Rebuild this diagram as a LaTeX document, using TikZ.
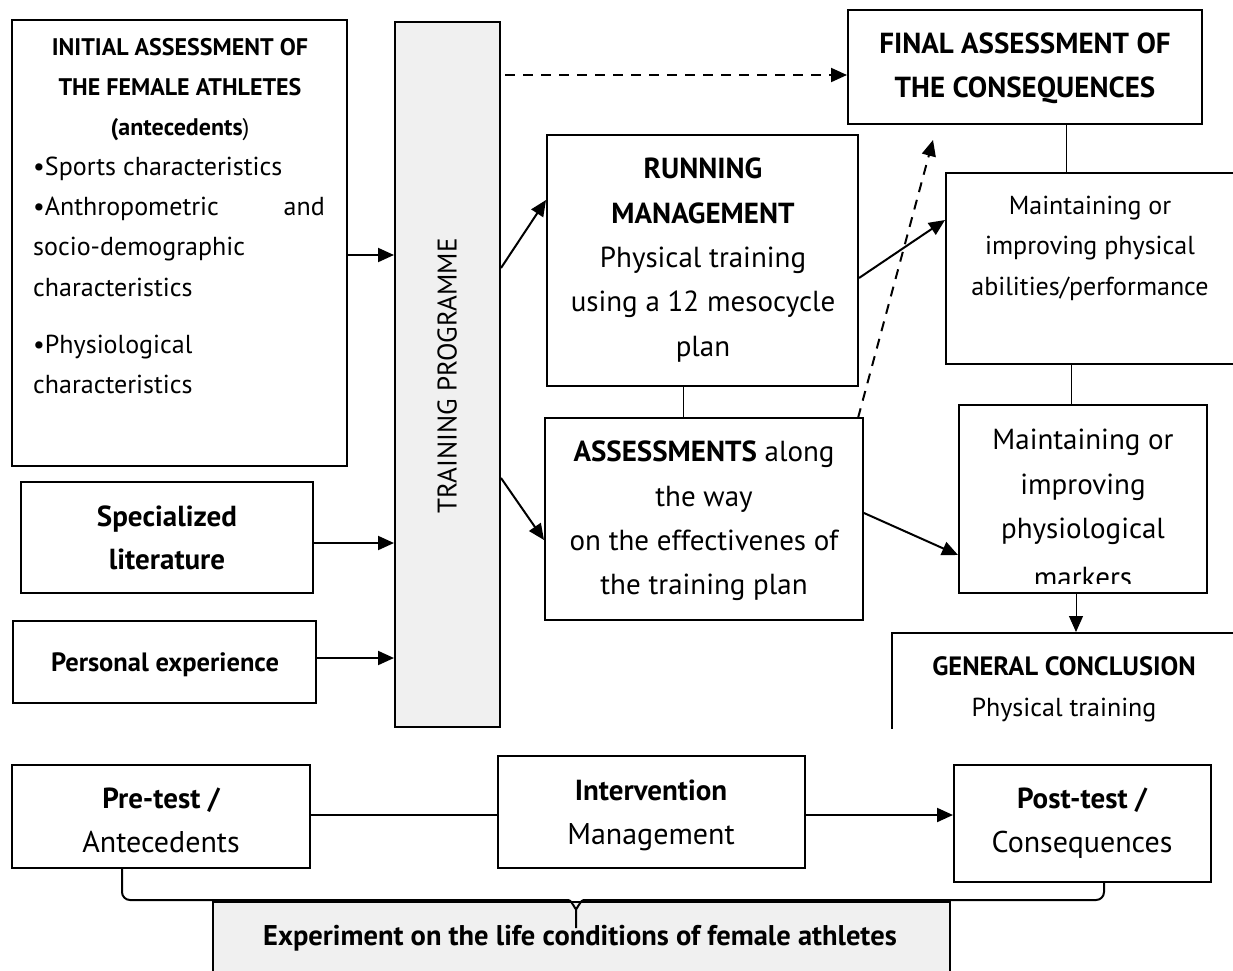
\documentclass[tikz,border=0pt]{standalone}
\usepackage{fontspec}
\setmainfont{PT Sans}
\usetikzlibrary{arrows.meta}
\tikzset{
  box/.style={draw, line width=2pt, inner sep=0pt},
  gbox/.style={box, fill=black!6},
  tl/.style={anchor=mid, inner sep=0pt, yshift=-6pt},
  fa/.style={font=\fontsize{26}{26}\selectfont},
  fb/.style={font=\fontsize{29}{29}\selectfont},
  fc/.style={font=\fontsize{30}{30}\selectfont},
  fab/.style={font=\fontsize{24}{24}\selectfont\bfseries},
  fgb/.style={font=\fontsize{26.5}{26.5}\selectfont\bfseries},
  fbb/.style={font=\fontsize{29}{29}\selectfont\bfseries},
  arr/.style={line width=2pt, -{Triangle[length=16pt,width=14pt]}},
  darr/.style={arr, dash pattern=on 10pt off 8pt},
  thin/.style={line width=1pt},
}
\begin{document}
\begin{tikzpicture}[x=1pt,y=-1pt]
\useasboundingbox (0,0) rectangle (1233,970);
% boxes
\node[box, minimum width=335pt, minimum height=446pt] (init) at (179.5,243) {};
\node[gbox, minimum width=105pt, minimum height=705pt] (tp) at (447.5,374.5) {};
\node[box, minimum width=354pt, minimum height=114pt] (final) at (1025,67) {};
\node[box, minimum width=311pt, minimum height=251pt] (run) at (702.5,260.5) {};
\node[box, minimum width=318pt, minimum height=202pt] (assess) at (704,519) {};
\node[box, minimum width=299pt, minimum height=191pt] (phys) at (1095.5,268.5) {};
\node[box, minimum width=248pt, minimum height=188pt] (physio) at (1083,499) {};
\begin{scope}
\clip (0,0) rectangle (1240,728);
\node[box, minimum width=353pt, minimum height=147pt] (gen) at (1068.5,706.5) {};
\end{scope}
\node[box, minimum width=292pt, minimum height=111pt] (spec) at (167,537.5) {};
\node[box, minimum width=303pt, minimum height=82pt] (pers) at (164.5,662) {};
\node[box, minimum width=298pt, minimum height=103pt] (pre) at (161,816.5) {};
\node[box, minimum width=307pt, minimum height=112pt] (interv) at (651.5,812) {};
\node[box, minimum width=257pt, minimum height=117pt] (post) at (1082.5,823.5) {};
\node[gbox, minimum width=737pt, minimum height=88pt] (exp) at (581.5,946) {};

% texts: initial assessment
\node[tl, fab] at (180,47) {INITIAL ASSESSMENT OF};
\node[tl, fab] at (180,87) {THE FEMALE ATHLETES};
\node[tl, fab] at (180,127) {(antecedents\mdseries)};
\node[tl, fa, anchor=mid west] at (33,167) {•Sports characteristics};
\node[tl, fa, anchor=mid west] at (33,207) {•Anthropometric};
\node[tl, fa, anchor=mid east] at (325,207) {and};
\node[tl, fa, anchor=mid west] at (33,247) {socio-demographic};
\node[tl, fa, anchor=mid west] at (33,288) {characteristics};
\node[tl, fa, anchor=mid west] at (33,345) {•Physiological};
\node[tl, fa, anchor=mid west] at (33,385) {characteristics};
% training programme
\node[rotate=90, inner sep=0pt, anchor=center, text height=0.7em, text depth=0pt,
      font=\fontsize{27}{27}\selectfont] (tptext) at (453,376) {TRAINING PROGRAMME};
% final
\node[tl, fbb] at (1025,45) {FINAL ASSESSMENT OF};
\node[tl, fbb] at (1025,89) {THE CONSEQUENCES};
% running
\node[tl, fbb] at (703,170) {RUNNING};
\node[tl, fbb] at (703,215) {MANAGEMENT};
\node[tl, fb] at (703,259) {Physical training};
\node[tl, fb] at (703,303) {using a 12 mesocycle};
\node[tl, fb] at (703,348) {plan};
% assessments
\node[tl, fb] at (704,453) {\bfseries ASSESSMENTS\mdseries{} along};
\node[tl, fb] at (704,498) {the way};
\node[tl, fb] at (704,542) {on the effectivenes of};
\node[tl, fb] at (704,586) {the training plan};
% phys
\node[tl, fa] at (1090,206) {Maintaining or};
\node[tl, fa] at (1090,246) {improving physical};
\node[tl, fa] at (1090,287) {abilities/performance};
% physio
\node[tl, fb] at (1083,441) {Maintaining or};
\node[tl, fb] at (1083,486) {improving};
\node[tl, fb] at (1083,530) {physiological};
\begin{scope}
\clip (950,555) rectangle (1210,583);
\node[tl, fb] at (1083,579) {markers};
\end{scope}
% general conclusion
\node[tl, fgb] at (1064,667) {GENERAL CONCLUSION};
\node[tl, fa] at (1064,708) {Physical training};
% spec, pers
\node[tl, fbb] at (167,518) {Specialized};
\node[tl, fbb] at (167,561) {literature};
\node[tl, fgb] at (165,663) {Personal experience};
% bottom
\node[tl, fbb] at (161,800) {Pre-test /};
\node[tl, fc] at (161,844) {Antecedents};
\node[tl, fbb] at (651,792) {Intervention};
\node[tl, fc] at (651,836) {Management};
\node[tl, fbb] at (1082,800) {Post-test /};
\node[tl, fc] at (1082,844) {Consequences};
\node[tl, fbb, font=\fontsize{28.5}{28.5}\selectfont\bfseries] at (580,937) {Experiment on the life conditions of female athletes};

% connectors
\draw[arr] (init.east |- 0,255) -- (tp.west |- 0,255);
\draw[arr] (spec.east |- 0,543) -- (tp.west |- 0,543);
\draw[arr] (pers.east |- 0,658) -- (tp.west |- 0,658);
\draw[arr] (tp.east |- 0,268) -- (run.west |- 0,200);
\draw[arr] (tp.east |- 0,478) -- (assess.west |- 0,540);
\draw[darr] (505,75) -- (final.west |- 0,75);
\draw[thin] (run.south -| 683,0) -- (assess.north -| 683,0);
\draw[arr] (run.east |- 0,278) -- (phys.west |- 0,220);
\coordinate (dtip) at (933,140);
\draw[darr] (858,418) -- (dtip);
\draw[thin] (final.south -| 1066,0) -- (phys.north -| 1066,0);
\draw[thin] (phys.south -| 1071,0) -- (physio.north -| 1071,0);
\draw[arr] (assess.east |- 0,513) -- (physio.west |- 0,555);
\draw[arr, line width=1pt] (physio.south -| 1076,0) -- (gen.north -| 1076,0);
\draw[line width=2pt] (pre.east |- 0,815) -- (interv.west |- 0,815);
\draw[arr] (interv.east |- 0,815) -- (post.west |- 0,815);
% brace
\draw[line width=2pt, line join=round]
  (pre.south -| 122,0) -- (122,892) to[out=-90,in=180] (130,900) -- (568,900)
  to[out=0,in=-90] (576,908) -- (576,928)
  (576,908) to[out=-90,in=180] (584,900) -- (1096,900)
  to[out=0,in=-90] (1104,892) -- (post.south -| 1104,0);
\end{tikzpicture}
\end{document}
